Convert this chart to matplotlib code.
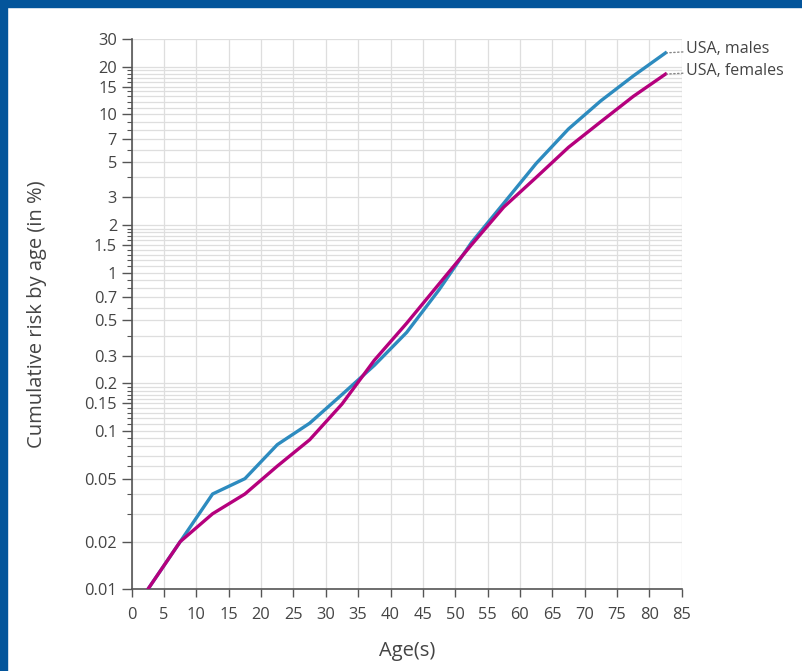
import matplotlib
matplotlib.use('Agg')
import matplotlib.pyplot as plt
import matplotlib.ticker as ticker
import matplotlib.patches as patches

# midpoints of the 5-year age groups
ages = [2.5, 7.5, 12.5, 17.5, 22.5, 27.5, 32.5, 37.5, 42.5, 47.5,
        52.5, 57.5, 62.5, 67.5, 72.5, 77.5, 82.5]
males = [0.01, 0.02, 0.04, 0.05, 0.082, 0.112, 0.17, 0.26, 0.42, 0.78,
         1.55, 2.75, 4.9, 8.1, 12.2, 17.5, 24.5]
females = [0.01, 0.02, 0.03, 0.04, 0.06, 0.088, 0.148, 0.28, 0.48, 0.85,
           1.5, 2.6, 4.0, 6.2, 9.0, 13.0, 18.0]
series_names = ['USA, males', 'USA, females']

y_ticks = [0.01, 0.02, 0.05, 0.1, 0.15, 0.2, 0.3, 0.5, 0.7, 1, 1.5, 2, 3, 5, 7, 10, 15, 20, 30]
y_ticklabels = ['0.01', '0.02', '0.05', '0.1', '0.15', '0.2', '0.3', '0.5', '0.7', '1',
                '1.5', '2', '3', '5', '7', '10', '15', '20', '30']
x_ticks = list(range(0, 90, 5))

minor = []
for d in [0.01, 0.1, 1, 10]:
    if d != 0.01:
        minor += [d * (1 + k / 10) for k in range(1, 10) if k != 5]
    minor += [d * k for k in range(3, 10) if not (d == 10 and k > 2)]
minor = [round(v, 6) for v in minor if round(v, 6) not in y_ticks and v < 30]

plt.rcParams['font.family'] = ['Open Sans', 'DejaVu Sans']
txt = '#444444'
grid_c = '#dedede'

fig = plt.figure(figsize=(8.02, 6.71), dpi=100)
ax = fig.add_axes([0.1642, 0.1218, 0.6858, 0.8201])

# frame of the figure: blue band on top and left
fig.patches.append(patches.Rectangle((0, 0.9896), 1, 0.0104, transform=fig.transFigure,
                                     color='#03559b', zorder=10))
fig.patches.append(patches.Rectangle((0, 0), 0.0087, 1, transform=fig.transFigure,
                                     color='#03559b', zorder=10))

ax.set_yscale('log')
ax.set_xlim(0, 85)
ax.set_ylim(0.01, 30)

ax.set_yticks(y_ticks)
ax.set_yticklabels(y_ticklabels)
ax.yaxis.set_minor_locator(ticker.FixedLocator(minor))
ax.yaxis.set_minor_formatter(ticker.NullFormatter())
ax.set_xticks(x_ticks)

ax.grid(which='major', color=grid_c, linewidth=0.9)
ax.grid(which='minor', axis='y', color=grid_c, linewidth=0.9)
ax.set_axisbelow(True)

for side in ['top', 'right']:
    ax.spines[side].set_visible(False)
for side in ['left', 'bottom']:
    ax.spines[side].set_color('#555555')
    ax.spines[side].set_linewidth(1.2)

ax.tick_params(axis='y', which='major', length=7.5, width=1, color='#555555',
               labelsize=11.8, labelcolor=txt, pad=3)
ax.tick_params(axis='y', which='minor', length=3.8, width=0.8, color='#555555')
ax.tick_params(axis='x', which='major', length=6, width=1, color='#555555',
               labelsize=11.8, labelcolor=txt, pad=7)

ax.plot(ages, males, color='#2d8bbf', linewidth=2.4, solid_joinstyle='round', zorder=3)
ax.plot(ages, females, color='#b5007d', linewidth=2.4, solid_joinstyle='round', zorder=3)

for vals, name in zip([males, females], series_names):
    ax.annotate(name, xy=(ages[-1], vals[-1]), xytext=(14.5, 2.5), textcoords='offset points',
                va='center', ha='left', fontsize=11.5, color=txt, annotation_clip=False,
                arrowprops=dict(arrowstyle='-', linestyle=(0, (1, 1.8)), color='#888888',
                                shrinkA=0, shrinkB=1, linewidth=1))

ax.set_ylabel('Cumulative risk by age (in %)', fontsize=14.5, color=txt)
ax.yaxis.set_label_coords(-0.154, 0.5)
ax.set_xlabel('Age(s)', fontsize=14.5, color=txt)
ax.xaxis.set_label_coords(0.5, -0.094)

fig.savefig('out.png', dpi=100)
